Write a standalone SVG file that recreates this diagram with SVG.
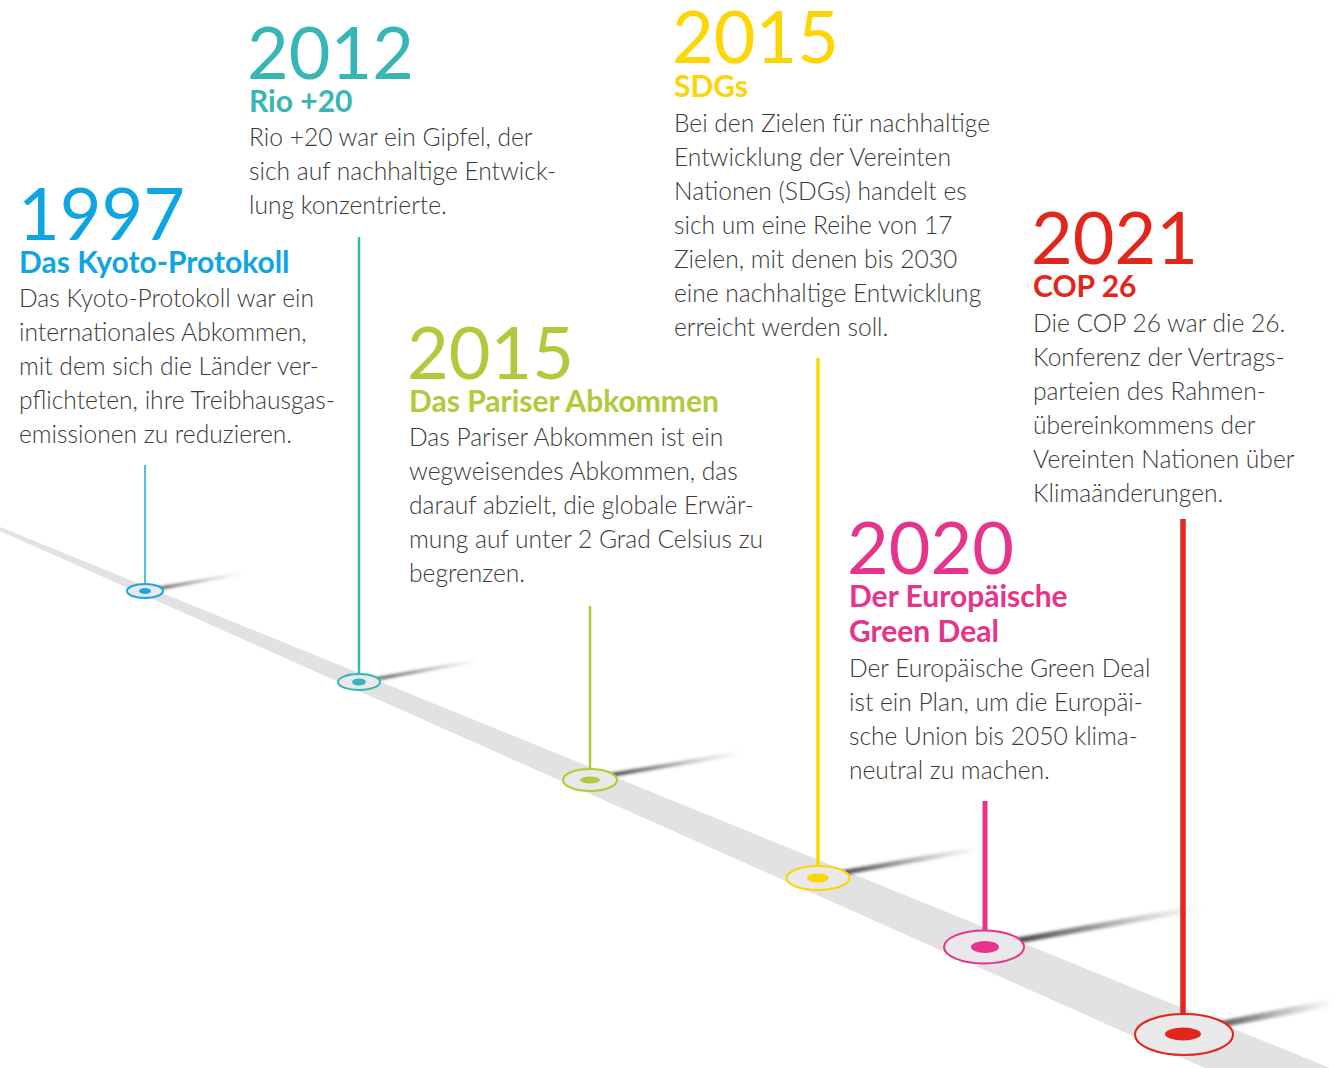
<svg xmlns="http://www.w3.org/2000/svg" width="1335" height="1068" viewBox="0 0 1335 1068">
<defs>
<style>
.yr{font-family:Lato,"Liberation Sans",sans-serif;font-size:72px;font-weight:400}
.tt{font-family:Lato,"Liberation Sans",sans-serif;font-size:30px;font-weight:700}
.bd{font-family:Lato,"Liberation Sans",sans-serif;font-size:24.6px;font-weight:300;fill:#3a3a3a}
.ring{fill:#e9e9e9;stroke-width:2}
.sh{fill:url(#shg);filter:url(#blur)}
</style>
<linearGradient id="shg" x1="0" y1="0" x2="1" y2="0">
<stop offset="0" stop-color="#111" stop-opacity="0.95"/>
<stop offset="0.45" stop-color="#444" stop-opacity="0.6"/>
<stop offset="1" stop-color="#888" stop-opacity="0"/>
</linearGradient>
<filter id="blur" x="-10%" y="-100%" width="120%" height="300%"><feGaussianBlur stdDeviation="1.4"/></filter>
</defs>
<rect width="1335" height="1068" fill="#fff"/>
<g id="timeline">
<polygon points="0,527 1335,1070 1335,1126 0,531" fill="#e2e2e2"/>
<polygon class="sh" points="147,589 245,572 245,574 147,592"/>
<polygon class="sh" points="362,680 478,659 478,662 362,683"/>
<polygon class="sh" points="593,776 742,751 742,755 593,780"/>
<polygon class="sh" points="821,874 980,846 980,851 821,879"/>
<polygon class="sh" points="988,943 1205,904 1205,910 988,949"/>
<polygon class="sh" points="1187,1028 1335,998 1335,1006 1187,1034"/>
</g>
<g id="connectors">
<line x1="145" y1="465" x2="145" y2="590" stroke="#1ba6e1" stroke-width="1.5"/>
<line x1="359" y1="237" x2="359" y2="681" stroke="#36b6b4" stroke-width="2.5"/>
<line x1="590" y1="606" x2="590" y2="779" stroke="#afca3b" stroke-width="2.5"/>
<line x1="818" y1="358" x2="818" y2="877" stroke="#fdd500" stroke-width="3.5"/>
<line x1="985" y1="801" x2="985" y2="946" stroke="#e6338b" stroke-width="5"/>
<line x1="1183" y1="519" x2="1183" y2="1033" stroke="#e3261b" stroke-width="5.5"/>
</g>
<g id="e1997">
<ellipse class="ring" cx="145" cy="591" rx="18" ry="7" stroke="#1ba6e1" stroke-width="1.5"/>
<ellipse cx="145" cy="591" rx="6" ry="3" fill="#1ba6e1"/>
<text class="yr" x="18" y="240" fill="#0ea5e3">1997</text>
<text class="tt" x="19" y="273" fill="#0ea5e3">Das Kyoto-Protokoll</text>
<text class="bd"><tspan x="19" y="307">Das Kyoto-Protokoll war ein</tspan><tspan x="19" y="341">internationales Abkommen,</tspan><tspan x="19" y="375">mit dem sich die Länder ver-</tspan><tspan x="19" y="409">pflichteten, ihre Treibhausgas-</tspan><tspan x="19" y="443">emissionen zu reduzieren.</tspan></text>
</g>
<g id="e2012">
<ellipse class="ring" cx="359" cy="682" rx="21" ry="8" stroke="#36b6b4"/>
<ellipse cx="359" cy="682" rx="7" ry="3.5" fill="#36b6b4"/>
<text class="yr" x="247" y="79" fill="#36b6b4">2012</text>
<text class="tt" x="249" y="112" fill="#36b6b4">Rio +20</text>
<text class="bd"><tspan x="249" y="146">Rio +20 war ein Gipfel, der</tspan><tspan x="249" y="180">sich auf nachhaltige Entwick-</tspan><tspan x="249" y="214">lung konzentrierte.</tspan></text>
</g>
<g id="e2015a">
<ellipse class="ring" cx="590" cy="780" rx="27" ry="11" stroke="#afca3b"/>
<ellipse cx="590" cy="780" rx="10" ry="3.5" fill="#afca3b"/>
<text class="yr" x="407" y="379" fill="#afca3b">2015</text>
<text class="tt" x="409" y="412" fill="#afca3b">Das Pariser Abkommen</text>
<text class="bd"><tspan x="409" y="446">Das Pariser Abkommen ist ein</tspan><tspan x="409" y="480">wegweisendes Abkommen, das</tspan><tspan x="409" y="514">darauf abzielt, die globale Erwär-</tspan><tspan x="409" y="548">mung auf unter 2 Grad Celsius zu</tspan><tspan x="409" y="582">begrenzen.</tspan></text>
</g>
<g id="e2015b">
<ellipse class="ring" cx="818" cy="878" rx="31.5" ry="12" stroke="#fdd500"/>
<ellipse cx="818" cy="878" rx="11" ry="4.5" fill="#fdd500"/>
<text class="yr" x="672" y="63" fill="#fdd500">2015</text>
<text class="tt" x="674" y="97" fill="#fdd500">SDGs</text>
<text class="bd"><tspan x="674" y="132">Bei den Zielen für nachhaltige</tspan><tspan x="674" y="166">Entwicklung der Vereinten</tspan><tspan x="674" y="200">Nationen (SDGs) handelt es</tspan><tspan x="674" y="234">sich um eine Reihe von 17</tspan><tspan x="674" y="268">Zielen, mit denen bis 2030</tspan><tspan x="674" y="302">eine nachhaltige Entwicklung</tspan><tspan x="674" y="336">erreicht werden soll.</tspan></text>
</g>
<g id="e2020">
<ellipse class="ring" cx="984" cy="947" rx="40" ry="16.5" stroke="#e6338b"/>
<ellipse cx="985" cy="947" rx="14" ry="6" fill="#e6338b"/>
<text class="yr" x="847" y="574" fill="#e6338b">2020</text>
<text class="tt" fill="#e6338b"><tspan x="849" y="607">Der Europäische</tspan><tspan x="849" y="642">Green Deal</tspan></text>
<text class="bd"><tspan x="849" y="677">Der Europäische Green Deal</tspan><tspan x="849" y="711">ist ein Plan, um die Europäi-</tspan><tspan x="849" y="745">sche Union bis 2050 klima-</tspan><tspan x="849" y="779">neutral zu machen.</tspan></text>
</g>
<g id="e2021">
<ellipse class="ring" cx="1184" cy="1034.5" rx="49" ry="20.5" stroke="#e3261b"/>
<ellipse cx="1183" cy="1034" rx="18" ry="6.5" fill="#e3261b"/>
<text class="yr" x="1031" y="264" fill="#e3261b">2021</text>
<text class="tt" x="1033" y="297" fill="#e3261b">COP 26</text>
<text class="bd"><tspan x="1033" y="332">Die COP 26 war die 26.</tspan><tspan x="1033" y="366">Konferenz der Vertrags-</tspan><tspan x="1033" y="400">parteien des Rahmen-</tspan><tspan x="1033" y="434">übereinkommens der</tspan><tspan x="1033" y="468">Vereinten Nationen über</tspan><tspan x="1033" y="502">Klimaänderungen.</tspan></text>
</g>
</svg>
